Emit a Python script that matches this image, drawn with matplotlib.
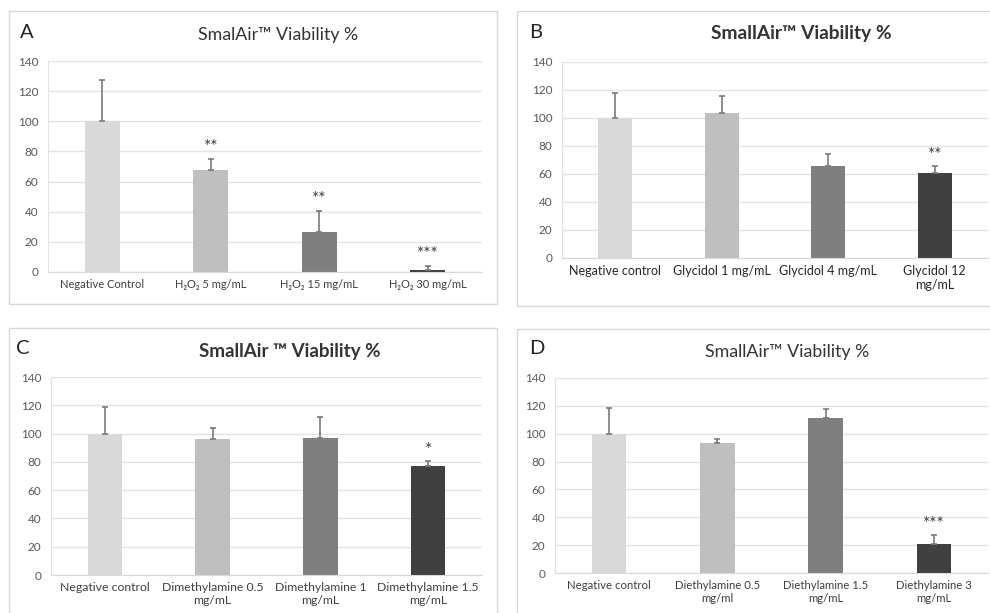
import numpy as np
import matplotlib
matplotlib.use('Agg')
import matplotlib.pyplot as plt
from matplotlib.patches import Rectangle

plt.rcParams['font.family'] = ['Lato', 'DejaVu Sans']

# Data
labels_a = ['Negative Control', 'H\u2082O\u2082 5 mg/mL', 'H\u2082O\u2082 15 mg/mL', 'H\u2082O\u2082 30 mg/mL']
values_a = [100, 68, 26.5, 1.5]
errors_a = [27.5, 7, 14, 2.5]
stars_a = ['', '**', '**', '***']

labels_b = ['Negative control', 'Glycidol 1 mg/mL', 'Glycidol 4 mg/mL', 'Glycidol 12\nmg/mL']
values_b = [100, 103.5, 66, 61]
errors_b = [18, 12.5, 8, 4.5]
stars_b = ['', '', '', '**']

labels_c = ['Negative control', 'Dimethylamine 0.5\nmg/mL', 'Dimethylamine 1\nmg/mL', 'Dimethylamine 1.5\nmg/mL']
values_c = [100, 96, 97, 77]
errors_c = [18.5, 8, 14.5, 3.5]
stars_c = ['', '', '', '*']

labels_d = ['Negative control', 'Diethylamine 0.5\nmg/ml', 'Diethylamine 1.5\nmg/mL', 'Diethylamine 3\nmg/mL']
values_d = [100, 93.5, 111.5, 20.5]
errors_d = [18.5, 2.5, 6, 6.5]
stars_d = ['', '', '', '***']

bar_colors = ['#d9d9d9', '#bfbfbf', '#7f7f7f', '#404040']

W, H = 990, 613
fig = plt.figure(figsize=(9.9, 6.13), dpi=100)


def px_rect(x0, y0, x1, y1):
    # pixel box (top-left origin) -> figure fraction [l, b, w, h]
    return [x0 / W, 1 - y1 / H, (x1 - x0) / W, (y1 - y0) / H]


# panel frames
for box in [(9, 11, 497, 304), (517, 11, 1000, 306), (9, 328, 497, 620), (517, 329, 1000, 620)]:
    l, b, w, h = px_rect(*box)
    fig.add_artist(Rectangle((l, b), w, h, transform=fig.transFigure,
                             fill=False, edgecolor='#d9d9d9', linewidth=1.0))

# (labels, values, errors, stars, axes box, letter, letter pos, title, title pos,
#  title weight, title size, xlabel colour, xlabel size)
panels = [
    (labels_a, values_a, errors_a, stars_a, (48, 61, 482, 272), 'A', (27, 32),
     'SmalAir\u2122 Viability %', (278, 35), 'normal', 12.8, '#404040', 8.0),
    (labels_b, values_b, errors_b, stars_b, (562, 62, 988, 258), 'B', (536, 32),
     'SmallAir\u2122 Viability %', (801, 34), 'bold', 13.8, '#262626', 9.0),
    (labels_c, values_c, errors_c, stars_c, (51, 377, 482, 575), 'C', (23, 348),
     'SmallAir \u2122 Viability %', (290, 351), 'bold', 13.5, '#404040', 8.8),
    (labels_d, values_d, errors_d, stars_d, (555, 378, 988, 573), 'D', (537, 348),
     'SmallAir\u2122 Viability %', (787, 352), 'normal', 12.8, '#404040', 8.2),
]

for (labels, vals, errs, stars, box, letter, lpos, title, tpos,
     tweight, tsize, xcolor, xsize) in panels:
    ax = fig.add_axes(px_rect(*box))
    x = np.arange(len(vals))
    ax.bar(x, vals, width=0.32, color=bar_colors, zorder=2)
    ax.errorbar(x, vals, yerr=[np.zeros(len(vals)), errs], fmt='none',
                ecolor='#7a7a7a', elinewidth=1.2, capsize=2.5, capthick=1.2, zorder=3)
    for xi, v, e, s in zip(x, vals, errs, stars):
        if s:
            ax.text(xi, v + e + 8, s, ha='center', va='center',
                    fontsize=12.5, color='#404040')
    ax.set_xlim(-0.5, 3.5)
    ax.set_ylim(0, 140)
    ax.set_yticks(np.arange(0, 141, 20))
    ax.set_xticks(x)
    ax.set_xticklabels(labels, fontsize=xsize, color=xcolor, linespacing=1.25)
    ax.tick_params(axis='both', length=0, pad=5)
    ax.tick_params(axis='y', labelsize=8.5, labelcolor='#595959', pad=7)
    ax.grid(axis='y', color='#e3e3e3', linewidth=1.0, zorder=0)
    ax.set_axisbelow(True)
    for sp in ['top', 'right']:
        ax.spines[sp].set_visible(False)
    ax.spines['left'].set_color('#e3e3e3')
    ax.spines['bottom'].set_color('#d9d9d9')

    fig.text(lpos[0] / W, 1 - lpos[1] / H, letter, ha='center', va='center',
             fontsize=14.5, color='#222222')
    fig.text(tpos[0] / W, 1 - tpos[1] / H, title, ha='center', va='center',
             fontsize=tsize, fontweight=tweight, color='#333333')

plt.savefig('out.png', dpi=100)
